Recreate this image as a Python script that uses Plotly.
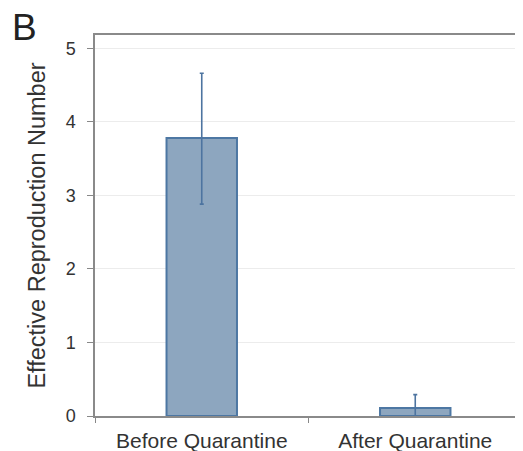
import plotly.graph_objects as go

categories = ["Before Quarantine", "After Quarantine"]
values = [3.78, 0.11]
err_plus = [0.88, 0.18]
err_minus = [0.90, 0.11]
y_ticks = [0, 1, 2, 3, 4, 5]

fig = go.Figure()
fig.add_trace(go.Bar(
    x=categories, y=values, width=0.33,
    marker=dict(color="#8DA6BF", line=dict(color="#4D77A3", width=2)),
    error_y=dict(type="data", array=err_plus, arrayminus=err_minus,
                 color="#4D74A0", thickness=1.6, width=2),
))

# page body has an 8px default margin, so the figure is sized to fit the window
fig.update_layout(
    width=515, height=443,
    margin=dict(l=87, r=1, t=27, b=35, autoexpand=False),
    paper_bgcolor="white", plot_bgcolor="white",
    font=dict(family="Liberation Sans, Arial, sans-serif", color="#333333"),
    showlegend=False,
)
fig.add_annotation(text="B", xref="paper", yref="paper", x=-0.199, y=1.079,
                   xanchor="left", yanchor="top", showarrow=False,
                   font=dict(size=37, color="#222222"))

fig.update_yaxes(range=[0, 5.18], tickvals=y_ticks, ticks="outside", ticklen=6,
                 tickcolor="#888888", tickfont=dict(size=18, color="#333333"),
                 ticklabelstandoff=8,
                 showline=True, linecolor="#8a8a8a", linewidth=1.5, mirror=True,
                 showgrid=True, gridcolor="#ececec", gridwidth=1, zeroline=False,
                 automargin=False,
                 title=dict(text="Effective Reproduction Number",
                            font=dict(size=23.5, color="#333333"), standoff=13))
fig.update_xaxes(range=[-0.5, 1.5], ticks="outside", tickson="boundaries", ticklen=5,
                 tickcolor="#888888", tickfont=dict(size=21, color="#333333"),
                 ticklabelstandoff=5,
                 showline=True, linecolor="#8a8a8a", linewidth=1.5, mirror=True,
                 automargin=False)

fig.write_html("out.html")
